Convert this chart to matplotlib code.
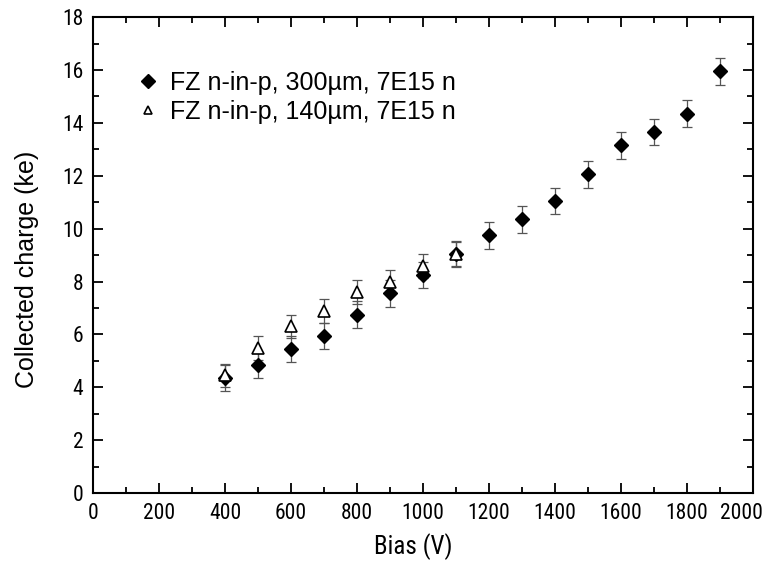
import numpy as np
import matplotlib.pyplot as plt
from matplotlib.ticker import MultipleLocator
from matplotlib.transforms import ScaledTranslation

# bias scan, 300 um thick sensor
bias_300 = [400, 500, 600, 700, 800, 900, 1000, 1100, 1200, 1300, 1400, 1500, 1600, 1700, 1800, 1900]
charge_300 = [4.35, 4.85, 5.45, 5.95, 6.75, 7.55, 8.25, 9.05, 9.75, 10.35, 11.05, 12.05, 13.15, 13.65, 14.35, 15.95]
err_300 = [0.5] * len(bias_300)

# bias scan, 140 um thick sensor
bias_140 = [400, 500, 600, 700, 800, 900, 1000, 1100]
charge_140 = [4.45, 5.5, 6.3, 6.9, 7.6, 8.0, 8.6, 9.05]
err_140 = [0.45] * len(bias_140)

label_300 = "FZ n-in-p, 300\u00b5m, 7E15 n"
label_140 = "FZ n-in-p, 140\u00b5m, 7E15 n"

plt.rcParams['font.family'] = ['Liberation Sans', 'DejaVu Sans']
narrow = ['Roboto Condensed', 'Liberation Sans']

fig = plt.figure(figsize=(7.66, 5.72), dpi=100)
ax = fig.add_axes([0.1214, 0.138, 0.8616, 0.832])

ax.errorbar(bias_300, charge_300, yerr=err_300, fmt='none', ecolor='#555555',
            elinewidth=0.9, capsize=3.5, capthick=0.9, zorder=2)
ax.errorbar(bias_140, charge_140, yerr=err_140, fmt='none', ecolor='#555555',
            elinewidth=0.9, capsize=3.5, capthick=0.9, zorder=2)
ax.plot(bias_300, charge_300, linestyle='none', marker='D', ms=7.2,
        color='black', zorder=3, label=label_300)
ax.plot(bias_140, charge_140, linestyle='none', marker='^', ms=8.5,
        mfc='white', mec='black', mew=1.2, zorder=4, label=label_140)

ax.set_xlim(0, 2000)
ax.set_ylim(0, 18)
ax.xaxis.set_major_locator(MultipleLocator(200))
ax.xaxis.set_minor_locator(MultipleLocator(100))
ax.yaxis.set_major_locator(MultipleLocator(2))
ax.yaxis.set_minor_locator(MultipleLocator(1))

ax.tick_params(which='both', direction='in', top=True, right=True, width=1.3)
ax.tick_params(which='major', length=7, labelsize=15.5, labelfontfamily=narrow)
ax.tick_params(axis='x', which='major', pad=7)
ax.tick_params(axis='y', which='major', pad=7)
ax.tick_params(which='minor', length=4)
for sp in ax.spines.values():
    sp.set_linewidth(1.5)

ax.set_xlabel("Bias (V)", fontsize=18, family=narrow)
ax.set_ylabel("Collected charge (ke)", fontsize=18)
ax.xaxis.set_label_coords(0.485, -0.113)
ax.yaxis.set_label_coords(-0.1, 0.47)
ax.xaxis.label.set_va('center')
ax.yaxis.label.set_va('center')

handles, labels = ax.get_legend_handles_labels()
leg = ax.legend(handles, labels, loc='upper left', bbox_to_anchor=(0.032, 0.935),
                frameon=False, fontsize=18, handletextpad=0.45,
                labelspacing=0.22, handlelength=0.9)
leg.legend_handles[1].set_markersize(6)

# keep the 2000 V label inside the figure edge
fig.canvas.draw()
for lbl in ax.get_xticklabels():
    if lbl.get_text() == "2000":
        lbl.set_transform(lbl.get_transform() + ScaledTranslation(-0.12, 0, fig.dpi_scale_trans))

fig.savefig("out.png", dpi=100)
